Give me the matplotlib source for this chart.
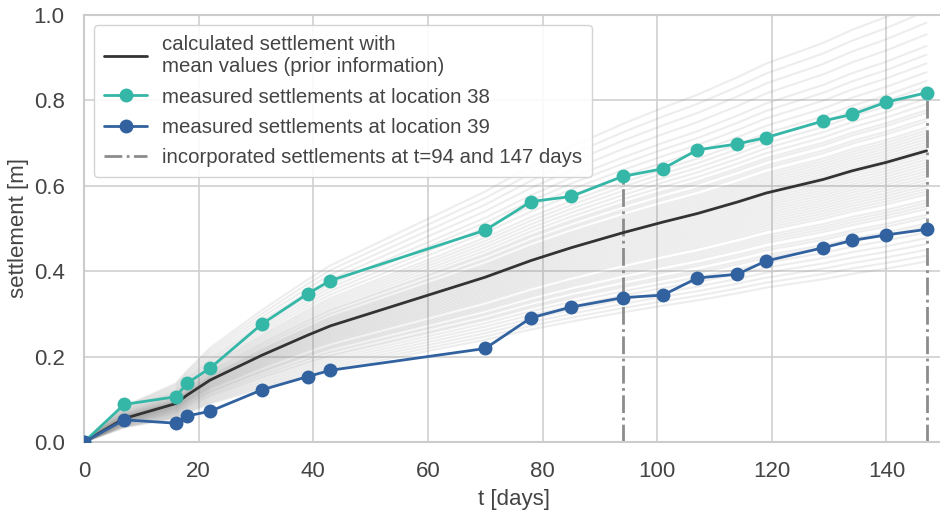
import numpy as np
import matplotlib
matplotlib.use("Agg")
import matplotlib.pyplot as plt
import seaborn as sns

sns.set_theme(style="whitegrid")
plt.rcParams['font.family'] = ['Liberation Sans', 'DejaVu Sans']

# measurement times [days]
t = [0, 7, 16, 18, 22, 31, 39, 43, 70, 78, 85, 94, 101, 107, 114, 119, 129, 134, 140, 147]

# measured settlements [m]
loc38 = [0.0, 0.088, 0.106, 0.138, 0.173, 0.276, 0.347, 0.378, 0.496, 0.563, 0.575, 0.622,
         0.640, 0.684, 0.698, 0.713, 0.752, 0.767, 0.796, 0.818]
loc39 = [0.0, 0.052, 0.044, 0.061, 0.072, 0.122, 0.153, 0.168, 0.219, 0.291, 0.316, 0.338,
         0.344, 0.384, 0.393, 0.424, 0.455, 0.472, 0.485, 0.498]

# calculated settlement with mean values (prior)
mean_calc = [0.0, 0.055, 0.09, 0.11, 0.145, 0.203, 0.25, 0.272, 0.386, 0.425, 0.455, 0.49,
             0.515, 0.535, 0.562, 0.583, 0.615, 0.635, 0.655, 0.682]

# scaling of the prior realisations relative to the mean curve
realisation_factors = [0.62, 0.64, 0.66, 0.68, 0.70, 0.72, 0.74, 0.75, 0.77, 0.78,
                       0.80, 0.81, 0.82, 0.83, 0.85, 0.86, 0.87, 0.88, 0.89, 0.90,
                       0.91, 0.92, 0.93, 0.94, 0.95, 0.96, 0.97, 0.98, 0.99, 1.00,
                       1.01, 1.02, 1.03, 1.04, 1.05, 1.06, 1.07, 1.08, 1.10, 1.11,
                       1.13, 1.14, 1.16, 1.18, 1.20, 1.22, 1.24, 1.27, 1.30, 1.33,
                       1.36, 1.40, 1.44, 1.48, 1.52]

incorporated_days = [94, 147]

fig = plt.figure(figsize=(9.4, 5.13), dpi=100)
ax = fig.add_axes([0.0894, 0.1384, 0.9146, 0.8324])

mean_arr = np.array(mean_calc)
for f in realisation_factors:
    ax.plot(t, mean_arr * f, color='#8a8a8a', alpha=0.15, lw=1.5, zorder=1)

ax.plot(t, mean_calc, color='#333333', lw=2, zorder=3,
        label='calculated settlement with\nmean values (prior information)')
ax.plot(t, loc38, color='#35b7a8', lw=2, marker='o', ms=9, zorder=4,
        label='measured settlements at location 38')
ax.plot(t, loc39, color='#31629f', lw=2, marker='o', ms=9, zorder=4,
        label='measured settlements at location 39')

for i, d in enumerate(incorporated_days):
    top = loc38[t.index(d)]
    ax.plot([d, d], [0, top], color='#8c8c8c', lw=2, ls='-.', zorder=2,
            label='incorporated settlements at t=94 and 147 days' if i == 0 else None)

ax.set_xlim(0, 150)
ax.set_ylim(0, 1.0)
ax.set_xticks([0, 20, 40, 60, 80, 100, 120, 140])
ax.set_yticks([0, 0.2, 0.4, 0.6, 0.8, 1.0])
ax.set_xlabel('t [days]', fontsize=16, color='#444444', labelpad=5)
ax.set_ylabel('settlement [m]', fontsize=16, color='#444444', labelpad=3)
ax.tick_params(labelsize=16, colors='#444444', pad=8)
for s in ax.spines.values():
    s.set_color('#cccccc')
    s.set_linewidth(1.5)
ax.grid(color='#d0d0d0', lw=1.2)

leg = ax.legend(loc='upper left', fontsize=14.7, frameon=True, framealpha=0.9,
                edgecolor='#d0d0d0', handlelength=2.1, handletextpad=0.7,
                borderpad=0.5, labelspacing=0.55)
for txt in leg.get_texts():
    txt.set_color('#444444')

fig.savefig('out.png', dpi=100)
